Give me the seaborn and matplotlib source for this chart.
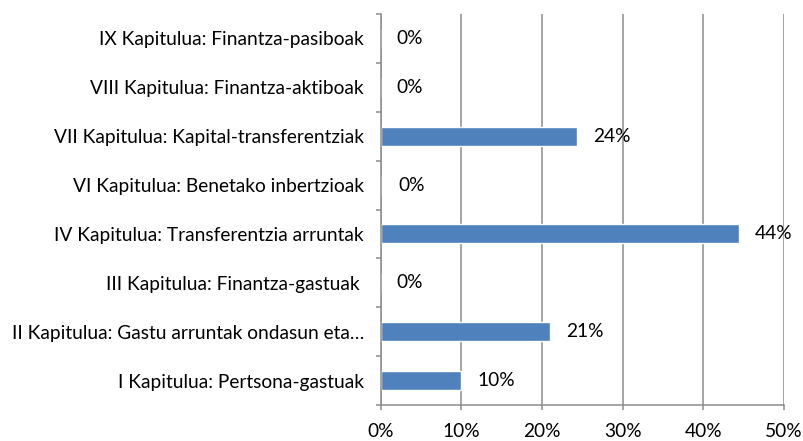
import numpy as np
import pandas as pd
import seaborn as sns
import matplotlib.pyplot as plt
from matplotlib.ticker import FixedLocator, FuncFormatter

# chapter labels, top to bottom as in the chart
chapters = [
    "IX Kapitulua: Finantza-pasiboak",
    "VIII Kapitulua: Finantza-aktiboak",
    "VII Kapitulua: Kapital-transferentziak",
    "VI Kapitulua: Benetako inbertzioak",
    "IV Kapitulua: Transferentzia arruntak",
    "III Kapitulua: Finantza-gastuak ",
    "II Kapitulua: Gastu arruntak ondasun eta\u2026",
    "I Kapitulua: Pertsona-gastuak",
]
# share of budget, percent
shares = [0.0, 0.0, 24.4, 0.2, 44.4, 0.0, 21.0, 10.0]
xticks = [0, 10, 20, 30, 40, 50]

df = pd.DataFrame({"chapter": chapters, "share": shares})

sns.set_theme(style="white")
plt.rcParams["font.family"] = ["Lato", "DejaVu Sans"]

grey = "#8c8c8c"
fs = 13.8
fig = plt.figure(figsize=(8.04, 4.41), dpi=100)
ax = fig.add_axes([0.4735, 0.0816, 0.5016, 0.8866])

sns.barplot(data=df, x="share", y="chapter", order=chapters, color="#4F81BD",
            saturation=1, width=0.39, ax=ax)

ax.set_xlim(0, 50)
ax.set_ylim(len(chapters) - 0.5, -0.5)
ax.xaxis.set_major_locator(FixedLocator(xticks))
ax.xaxis.set_major_formatter(FuncFormatter(lambda v, p: f"{v:.0f}%"))
ax.grid(axis="x", color=grey, linewidth=1.1)
ax.set_axisbelow(True)
ax.set_xlabel("")
ax.set_ylabel("")

for side in ["top", "right"]:
    ax.spines[side].set_visible(False)
for side in ["left", "bottom"]:
    ax.spines[side].set_color(grey)
    ax.spines[side].set_linewidth(1.1)

# ticks at category boundaries on the y axis
ax.yaxis.set_minor_locator(FixedLocator(np.arange(-0.5, len(chapters), 1.0)))
ax.tick_params(axis="y", which="major", length=0, pad=12, labelsize=fs, colors="black")
ax.tick_params(axis="y", which="minor", left=True, length=3.6, width=1.1, color=grey)
ax.tick_params(axis="x", which="major", bottom=True, length=3.6, width=1.1, color=grey,
               pad=9.5, labelsize=fs, labelcolor="black")

ax.bar_label(ax.containers[0], labels=[f"{v:.0f}%" for v in shares],
             padding=11.5, fontsize=fs, color="black")

fig.savefig("out.png", dpi=100)
